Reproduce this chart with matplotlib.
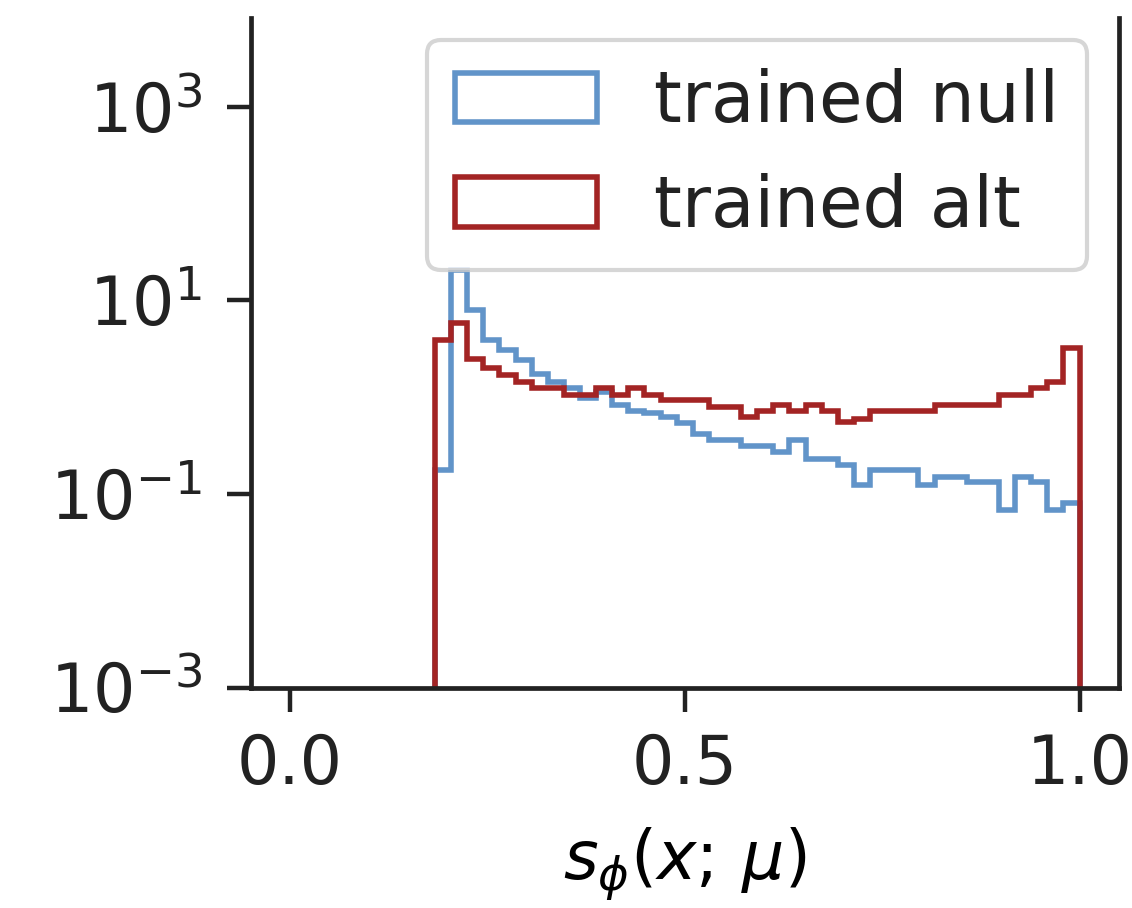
import numpy as np
import matplotlib
matplotlib.use("Agg")
import matplotlib.pyplot as plt
from matplotlib.ticker import NullLocator, FixedLocator

# ---- data ----
bin_edges = np.linspace(0.0, 1.0, 50)          # 49 equal bins on [0, 1]
first_bin = 9                                   # first non-empty bin index
null_density = [0.177, 20.4, 7.9, 3.87, 3.05, 2.4, 1.75, 1.44, 1.23, 0.97,
                1.13, 0.83, 0.71, 0.69, 0.63, 0.54, 0.42, 0.36, 0.36, 0.31,
                0.31, 0.27, 0.36, 0.23, 0.23, 0.20, 0.124, 0.177, 0.177, 0.177,
                0.124, 0.151, 0.151, 0.134, 0.134, 0.068, 0.151, 0.134, 0.068, 0.080]
alt_density = [3.87, 5.8, 2.5, 1.98, 1.69, 1.44, 1.23, 1.23, 1.05, 1.05,
               1.23, 1.05, 1.25, 1.05, 0.93, 0.93, 0.93, 0.79, 0.79, 0.63,
               0.71, 0.83, 0.71, 0.83, 0.71, 0.55, 0.60, 0.71, 0.71, 0.71,
               0.71, 0.83, 0.83, 0.83, 0.83, 1.05, 1.05, 1.23, 1.44, 3.18]
series_labels = ["trained null", "trained alt"]
ytick_values = [1e-3, 1e-1, 1e1, 1e3]
xtick_values = [0.0, 0.5, 1.0]
xlabel = r"$s_\phi(x;\,\mu)$"

# ---- figure ----
W, H, DPI = 1132, 908, 100
fig = plt.figure(figsize=(W / DPI, H / DPI), dpi=DPI)
ax = fig.add_axes([250.5 / W, 1 - 687.5 / H, (1119 - 250.5) / W, (687.5 - 18) / H])

centers = 0.5 * (bin_edges[:-1] + bin_edges[1:])
null_w = np.zeros(len(centers))
alt_w = np.zeros(len(centers))
null_w[first_bin:first_bin + len(null_density)] = null_density
alt_w[first_bin:first_bin + len(alt_density)] = alt_density

c_null = "#6194c9"
c_alt = "#a32424"
ax.hist(centers, bins=bin_edges, weights=null_w, histtype="step", log=True,
        color=c_null, lw=4.0, label=series_labels[0])
ax.hist(centers, bins=bin_edges, weights=alt_w, histtype="step", log=True,
        color=c_alt, lw=4.0, label=series_labels[1])

ax.set_xlim(-0.05, 1.05)
ax.set_ylim(1e-3, 10 ** 3.916)
ax.yaxis.set_major_locator(FixedLocator(ytick_values))
ax.yaxis.set_minor_locator(NullLocator())
ax.set_xticks(xtick_values)
ax.set_xticklabels(["0.0", "0.5", "1.0"])

for s in ["left", "right", "bottom"]:
    ax.spines[s].set_linewidth(3.4)
    ax.spines[s].set_color("#222222")
ax.spines["top"].set_visible(False)

ax.tick_params(axis="both", which="major", labelsize=48, length=17, width=3.2,
               pad=15, colors="#222222")
ax.tick_params(axis="y", pad=18)
ax.set_xlabel(xlabel, fontsize=48, labelpad=20)

leg = ax.legend(loc="upper right", bbox_to_anchor=(1087 / W, 1 - 40 / H),
                bbox_transform=fig.transFigure, borderaxespad=0,
                fontsize=51, framealpha=0.8)
leg.get_frame().set_linewidth(3.0)
leg.get_frame().set_edgecolor("#cccccc")
for t in leg.get_texts():
    t.set_color("#222222")

fig.savefig("out.png", dpi=DPI)
